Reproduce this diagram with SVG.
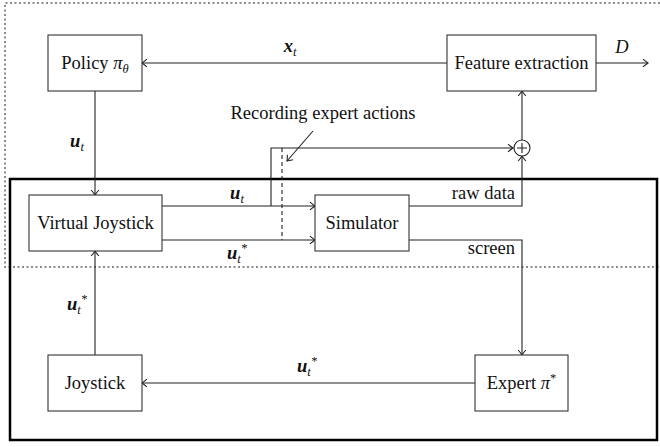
<svg xmlns="http://www.w3.org/2000/svg" width="660" height="447" viewBox="0 0 660 447">
<style>
  .box { fill: #fff; stroke: #333; stroke-width: 1.1; }
  .lbl { font-family: "Liberation Serif", "Times New Roman", serif; font-size: 18.5px; fill: #111; }
  .m { font-family: "Liberation Serif", "Times New Roman", serif; font-size: 18.5px; fill: #111; font-style: italic; }
  .b { font-weight: bold; }
  .sub { font-size: 12.5px; font-weight: normal; }
  .conn { fill: none; stroke: #222; stroke-width: 1.1; }
</style>
<defs>
  <marker id="to" markerUnits="userSpaceOnUse" markerWidth="14" markerHeight="14" viewBox="-7 -7 14 14" refX="0" refY="0" orient="auto">
    <path d="M -5,-3.8 Q -1.5,-0.9 0,0 Q -1.5,0.9 -5,3.8" fill="none" stroke="#222" stroke-width="1.1"/>
  </marker>
</defs>
<rect width="660" height="447" fill="#fff"/>
<g id="regions">
  <path d="M660,3 H5 V267 H660" fill="none" stroke="#8c8c8c" stroke-width="2" stroke-dasharray="2 2.5"/>
  <rect x="10" y="179" width="647" height="261" fill="none" stroke="#000" stroke-width="2.5"/>
</g>
<g id="connectors">
  <path class="conn" d="M447,63 H142" marker-end="url(#to)"/>
  <path class="conn" d="M596,63 H648" marker-end="url(#to)"/>
  <path class="conn" d="M95,91 V195" marker-end="url(#to)"/>
  <path class="conn" d="M162,206 H315" marker-end="url(#to)"/>
  <path class="conn" d="M162,240 H315" marker-end="url(#to)"/>
  <path class="conn" d="M271,206 V148 H513" marker-end="url(#to)"/>
  <path class="conn" d="M282,148 V240" stroke-dasharray="4 3"/>
  <path class="conn" d="M409,206 H522 V156" marker-end="url(#to)"/>
  <path class="conn" d="M522,140 V91" marker-end="url(#to)"/>
  <path class="conn" d="M409,240 H522 V355" marker-end="url(#to)"/>
  <path class="conn" d="M475,383 H142" marker-end="url(#to)"/>
  <path class="conn" d="M95,355 V251" marker-end="url(#to)"/>
  <path class="conn" d="M313,131 L287,161" marker-end="url(#to)"/>
  <text class="m b" x="290" y="52" text-anchor="middle">x<tspan class="sub" dy="4">t</tspan></text>
  <text class="m" x="622" y="53" text-anchor="middle">D</text>
  <text class="m b" x="77" y="147" text-anchor="middle">u<tspan class="sub" dy="4">t</tspan></text>
  <text class="m b" x="237" y="199" text-anchor="middle">u<tspan class="sub" dy="4">t</tspan></text>
  <text class="m b" x="237" y="259" text-anchor="middle">u<tspan class="sub" dy="4">t</tspan><tspan class="sub" dy="-11">*</tspan></text>
  <text class="m b" x="77" y="310" text-anchor="middle">u<tspan class="sub" dy="4">t</tspan><tspan class="sub" dy="-11">*</tspan></text>
  <text class="m b" x="307" y="372" text-anchor="middle">u<tspan class="sub" dy="4">t</tspan><tspan class="sub" dy="-11">*</tspan></text>
  <text class="lbl" x="323" y="119" text-anchor="middle">Recording expert actions</text>
  <text class="lbl" x="515" y="199" text-anchor="end">raw data</text>
  <text class="lbl" x="515" y="254" text-anchor="end">screen</text>
</g>
<g id="sum">
  <circle cx="522" cy="148" r="8" fill="#fff" stroke="#222" stroke-width="1.1"/>
  <path d="M517,148 H527 M522,143 V153" stroke="#222" stroke-width="1.1"/>
</g>
<g id="policy">
  <rect class="box" x="48" y="35" width="94" height="56"/>
  <text class="lbl" x="95" y="69" text-anchor="middle">Policy <tspan font-style="italic">π</tspan><tspan class="sub" font-style="italic" dy="4">θ</tspan></text>
</g>
<g id="feature">
  <rect class="box" x="447" y="35" width="149" height="56"/>
  <text class="lbl" x="521.5" y="69" text-anchor="middle">Feature extraction</text>
</g>
<g id="virtual-joystick">
  <rect class="box" x="29" y="195" width="133" height="56"/>
  <text class="lbl" x="95.5" y="229" text-anchor="middle">Virtual Joystick</text>
</g>
<g id="simulator">
  <rect class="box" x="315" y="195" width="94" height="56"/>
  <text class="lbl" x="362" y="229" text-anchor="middle">Simulator</text>
</g>
<g id="joystick">
  <rect class="box" x="48" y="355" width="94" height="56"/>
  <text class="lbl" x="95" y="389" text-anchor="middle">Joystick</text>
</g>
<g id="expert">
  <rect class="box" x="475" y="355" width="93" height="56"/>
  <text class="lbl" x="521.5" y="389" text-anchor="middle">Expert <tspan font-style="italic">π</tspan><tspan class="sub" dy="-7">*</tspan></text>
</g>
</svg>
